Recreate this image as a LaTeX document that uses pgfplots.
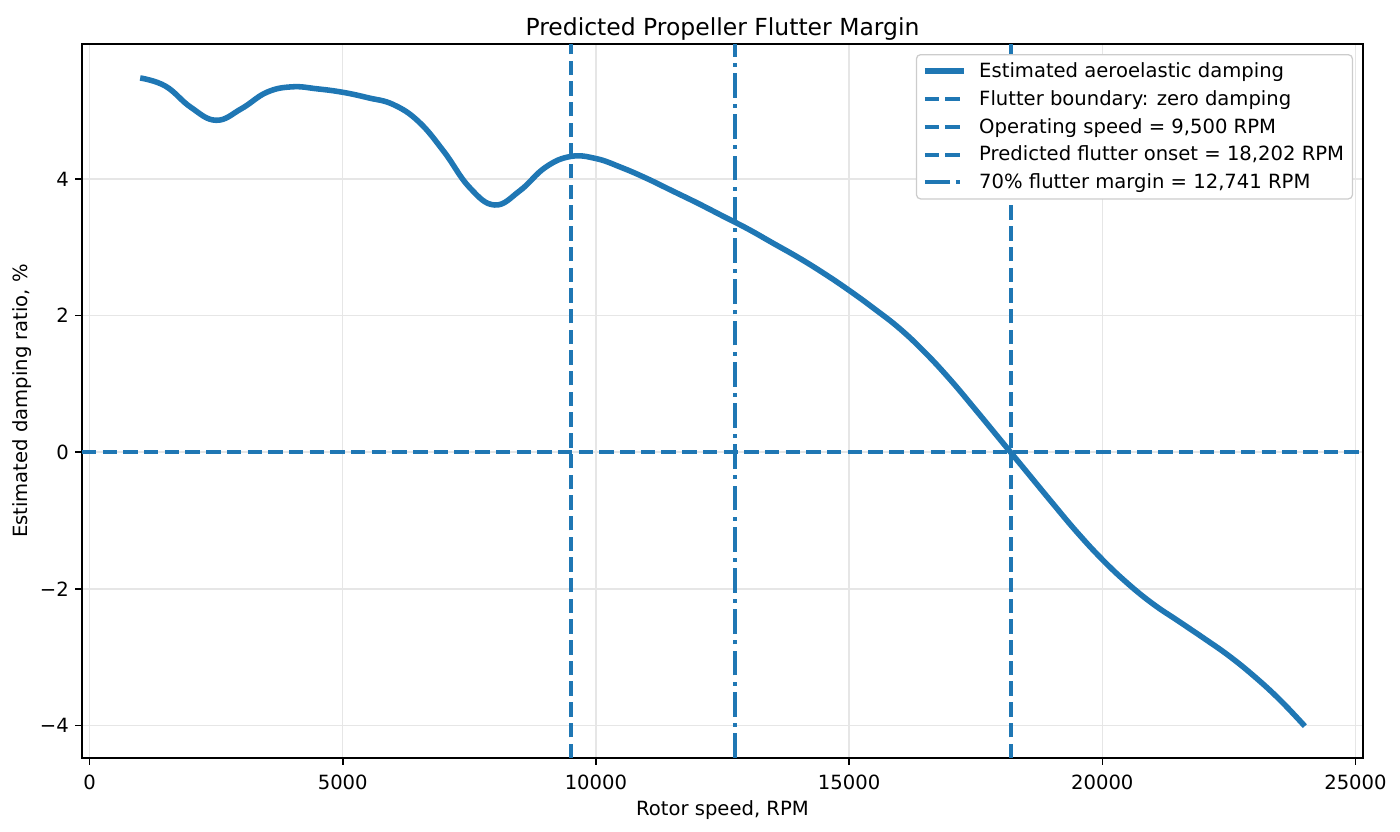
\documentclass[border=0pt]{standalone}
\usepackage{fontspec}
\setmainfont{DejaVu Sans}
\usepackage{pgfplots}
\pgfplotsset{compat=1.18}
\definecolor{tabblue}{HTML}{1F77B4}
\definecolor{gridgray}{HTML}{E6E6E6}
\begin{document}
\begin{tikzpicture}
\begin{axis}[
  scale only axis,
  width=922.3pt, height=514pt,
  xmin=-150, xmax=25150,
  ymin=-4.4765, ymax=5.9765,
  xtick={0,5000,10000,15000,20000,25000},
  xticklabels={0,5000,10000,15000,20000,25000},
  ytick={-4,-2,0,2,4},
  yticklabels={−4,−2,0,2,4},
  scaled ticks=false,
  tick align=outside,
  tick pos=left,
  major tick length=4.9pt,
  every tick/.style={black, line width=1.13pt},
  axis line style={line width=1.13pt},
  grid=major,
  major grid style={gridgray, line width=1.1pt},
  tick label style={font=\fontsize{14.1}{17}\selectfont},
  xticklabel style={yshift=-3.5pt},
  yticklabel style={xshift=-1pt},
  /pgf/number format/assume math mode=true,
  title={Predicted Propeller Flutter Margin},
  title style={font=\fontsize{16.9}{20}\selectfont, at={(axis description cs:0.5,1.0098)}, anchor=center},
  xlabel={Rotor speed, RPM},
  ylabel={Estimated damping ratio, \%},
  xlabel style={font=\fontsize{14.1}{17}\selectfont, at={(axis description cs:0.5,-0.073)}, anchor=center},
  ylabel style={font=\fontsize{14.1}{17}\selectfont, at={(axis description cs:-0.0468,0.5)}, anchor=center},
  legend style={at={(1,1)}, anchor=north east, xshift=-7.2pt, yshift=-7.2pt,
    font=\fontsize{14.1}{17}\selectfont, draw=black!20, line width=0.9pt, rounded corners=3pt,
    row sep=3.8pt, inner xsep=4pt, inner ysep=3.8pt,
    /tikz/every odd column/.append style={column sep=7pt}},
  legend cell align=left,
  every axis plot/.append style={legend image code/.code={\draw[##1] (0pt,0pt) -- (28.2pt,0pt);}},
]
\addplot[tabblue, line width=4pt, smooth, tension=0.7] coordinates {
(1000,5.48) (1500,5.36) (2000,5.05) (2500,4.86) (3000,5.03) (3500,5.27)
(4000,5.35) (4500,5.32) (5000,5.27) (5500,5.19) (6000,5.09) (6500,4.84)
(7000,4.40) (7500,3.88) (8000,3.62) (8500,3.83) (9000,4.17) (9500,4.33)
(10000,4.30) (10500,4.17) (11000,4.01) (11500,3.83) (12000,3.65) (12500,3.46)
(13000,3.27) (13500,3.06) (14000,2.85) (14500,2.62) (15000,2.37) (15500,2.10)
(16000,1.81) (16500,1.46) (17000,1.06) (17500,0.62) (18000,0.17) (18500,-0.28)
(19000,-0.73) (19500,-1.17) (20000,-1.57) (20500,-1.92) (21000,-2.22) (21500,-2.47)
(22000,-2.72) (22500,-2.98) (23000,-3.28) (23500,-3.62) (24000,-4.01)
};
\addlegendentry{Estimated aeroelastic damping}
\addplot[tabblue, line width=2.8pt, dash pattern=on 10.4pt off 4.5pt] coordinates {(-150,0) (25150,0)};
\addlegendentry{Flutter boundary: zero damping}
\addplot[tabblue, line width=2.8pt, dash pattern=on 10.4pt off 4.5pt] coordinates {(9500,-4.4765) (9500,5.9765)};
\addlegendentry{Operating speed = 9,500 RPM}
\addplot[tabblue, line width=2.8pt, dash pattern=on 10.4pt off 4.5pt] coordinates {(18202,-4.4765) (18202,5.9765)};
\addlegendentry{Predicted flutter onset = 18,202 RPM}
\addplot[tabblue, line width=2.8pt, dash pattern=on 17.9pt off 4.5pt on 2.8pt off 4.5pt] coordinates {(12741,-4.4765) (12741,5.9765)};
\addlegendentry{70\% flutter margin = 12,741 RPM}
\end{axis}
\pgfresetboundingbox
\path[use as bounding box] ([xshift=-59pt,yshift=-53.2pt]current axis.south west) rectangle ([xshift=26.6pt,yshift=31.7pt]current axis.north east);
\end{tikzpicture}
\end{document}
